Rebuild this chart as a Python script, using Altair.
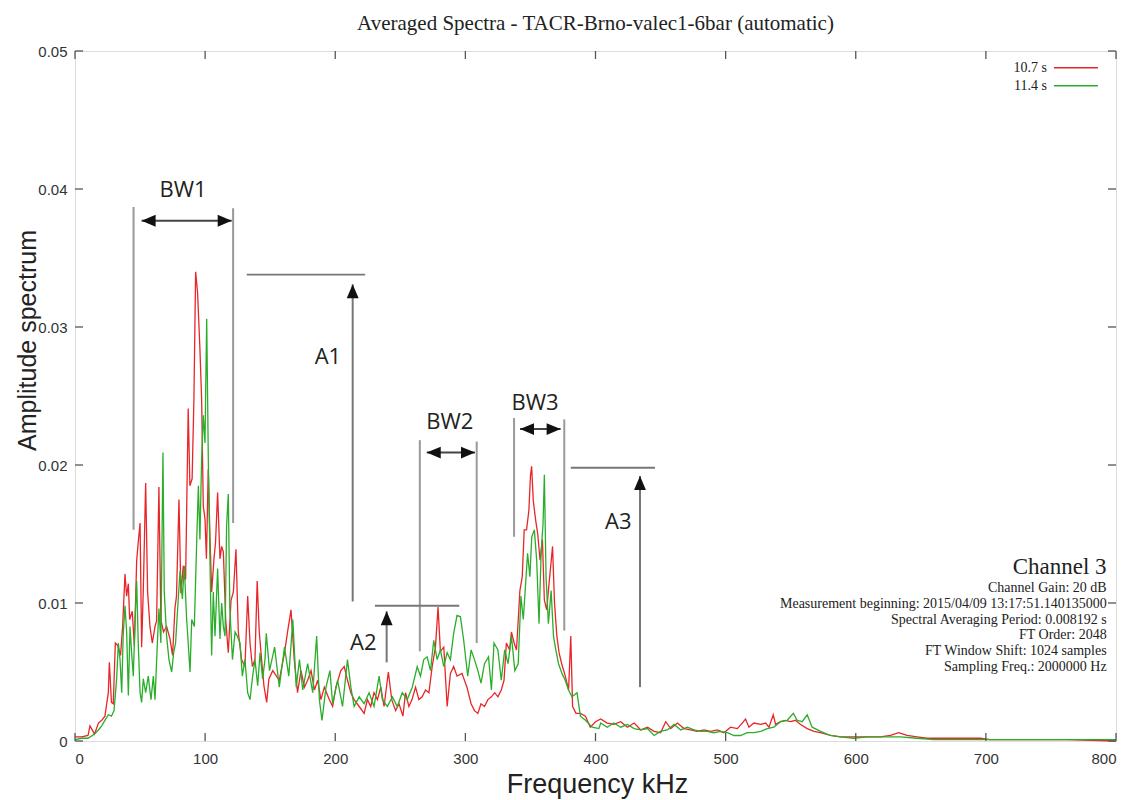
import altair as alt
import pandas as pd

# ---------------- data ----------------
red_freq = [0, 5, 10, 11.5, 15, 18, 20.5, 23, 25.6, 26.4, 28, 29.4, 31, 33, 35, 36.6, 38.4, 39.7, 41, 42, 44, 45.6,
            47.4, 48.6, 50, 51.2, 52.5, 54.3, 55.8, 57.6, 59.4, 61.5, 62.7, 64.5, 66, 68, 70.4, 73, 75, 76.8, 78,
            79.9, 81.4, 83.2, 85, 87, 88.3, 90, 91.4, 92.7, 94.2, 96, 97.3, 98.6, 99.9, 101, 102.4, 103.7, 105,
            106.8, 108, 109.6, 111.4, 112.7, 114, 115.8, 117.8, 119.9, 121.7, 123.7, 125.5, 128, 130.6, 132.7,
            134.5, 136.3, 138.3, 140, 141.6, 143.4, 145.2, 147.3, 149, 152, 157, 161, 163.5, 166, 168.5, 171,
            173.7, 176.3, 178.8, 181.4, 184, 186.5, 189, 191.6, 195.4, 198, 200.5, 204.3, 206.9, 209.4, 212,
            214.5, 218.4, 222.2, 224.7, 227.3, 229.8, 232.4, 235, 237.5, 240.8, 243.4, 246.4, 249, 252, 254,
            256.6, 259, 261.7, 264.3, 266.8, 269.4, 272, 274.5, 277, 279, 280.8, 283.4, 286, 288.5, 291, 293.6,
            297.4, 301.2, 304.4, 307, 309.6, 312, 314.7, 317.3, 320, 322.5, 325, 327.6, 329.7, 331.5, 334, 335.4,
            337.5, 339.3, 341.9, 343.7, 345.2, 347, 348.8, 350, 350.9, 352.2, 354, 355.6, 357.4, 359.2, 360.7,
            362.5, 364.3, 367, 368.5, 370.3, 372, 374, 376.8, 379.3, 381, 382.4, 385, 388.4, 392.3, 396, 400,
            404, 409, 414, 419.4, 424.5, 429.7, 434.8, 440, 445, 450, 454, 457.8, 463, 468, 473, 478, 483.4,
            488.5, 493.6, 498.7, 503.8, 509, 512.8, 515.3, 517.9, 521.7, 526.9, 530.7, 533.3, 536.6, 538.4,
            542.2, 546, 549.9, 553.7, 557.6, 562.7, 567.8, 572.9, 580.6, 588.3, 596, 603.6, 611.3, 619, 626.6,
            633, 639.4, 647, 654.8, 662.4, 672.7, 682.9, 695.7, 703.4, 711, 736.6, 762.2, 800]
red_amp = [0.0003, 0.0003, 0.0004, 0.0011, 0.0005, 0.0013, 0.0015, 0.0018, 0.0035, 0.0057, 0.0028, 0.0027, 0.0071,
           0.0069, 0.0062, 0.0083, 0.0121, 0.0105, 0.0114, 0.0088, 0.0094, 0.0069, 0.0131, 0.0144, 0.0158, 0.0068,
           0.011, 0.0187, 0.0108, 0.0083, 0.0071, 0.0083, 0.0087, 0.0184, 0.0088, 0.0079, 0.0083, 0.0074, 0.0062,
           0.0096, 0.0105, 0.0175, 0.0107, 0.0127, 0.0117, 0.0241, 0.0185, 0.019, 0.0248, 0.034, 0.0325, 0.0284,
           0.0248, 0.017, 0.0161, 0.0132, 0.0197, 0.0149, 0.0108, 0.0132, 0.0144, 0.018, 0.0132, 0.0141, 0.0137,
           0.0088, 0.0064, 0.0102, 0.0108, 0.0139, 0.0079, 0.0059, 0.0054, 0.0105, 0.0071, 0.0054, 0.0059, 0.0116,
           0.0079, 0.0059, 0.004, 0.0028, 0.0045, 0.0051, 0.0044, 0.0064, 0.008, 0.0095, 0.0059, 0.0035, 0.0051,
           0.0039, 0.0044, 0.0051, 0.0037, 0.0044, 0.003, 0.0039, 0.003, 0.0025, 0.0039, 0.0051, 0.0054, 0.0044,
           0.0035, 0.003, 0.0025, 0.002, 0.003, 0.0025, 0.0035, 0.003, 0.0039, 0.0025, 0.005, 0.003, 0.0022,
           0.0027, 0.0018, 0.0035, 0.0025, 0.003, 0.0039, 0.003, 0.0032, 0.0037, 0.0035, 0.0054, 0.0068, 0.0097,
           0.0065, 0.0068, 0.0025, 0.0049, 0.0054, 0.0047, 0.0049, 0.0039, 0.0027, 0.0022, 0.002, 0.0027, 0.0025,
           0.003, 0.0032, 0.0035, 0.0032, 0.0037, 0.0044, 0.0071, 0.0066, 0.0079, 0.0071, 0.0066, 0.0109, 0.0119,
           0.0153, 0.0153, 0.0167, 0.0192, 0.0199, 0.0174, 0.016, 0.015, 0.0131, 0.0146, 0.0102, 0.0095, 0.0114,
           0.0141, 0.01, 0.0076, 0.0064, 0.0056, 0.0047, 0.0037, 0.0076, 0.0025, 0.002, 0.002, 0.0018, 0.001,
           0.0014, 0.0016, 0.0013, 0.0012, 0.0014, 0.001, 0.0013, 0.0008, 0.001, 0.0007, 0.0006, 0.0014, 0.0009,
           0.0013, 0.0009, 0.0008, 0.0007, 0.0008, 0.0007, 0.0008, 0.0006, 0.001, 0.0009, 0.0013, 0.0016, 0.001,
           0.0013, 0.0012, 0.0013, 0.001, 0.0019, 0.0012, 0.0014, 0.0015, 0.0014, 0.0015, 0.0012, 0.0009, 0.0007,
           0.0006, 0.0004, 0.0003, 0.0003, 0.0003, 0.0003, 0.0003, 0.0004, 0.0006, 0.0004, 0.0003, 0.0002, 0.0002,
           0.0002, 0.0002, 0.0002, 0.0001, 0.0001, 0.0001, 0.0001, 0.0]

green_freq = [0, 5, 10, 15, 18, 20.5, 23, 25.6, 28, 30, 32, 33.3, 34.6, 35.9, 37, 38.4, 39.7, 41, 42.3, 43.5, 44.8,
              46, 47.4, 48.6, 50, 51.2, 52.5, 54.3, 56.3, 58.4, 60.2, 61.5, 63.3, 64.5, 66, 67.6, 68.6, 70.4, 72.2,
              74.3, 75.8, 77.3, 78.9, 80.7, 82.5, 84, 85.8, 87, 88.4, 89.7, 91.7, 93.5, 94.8, 96, 97.3, 98.6, 99.9,
              101.2, 102.5, 103.7, 105, 106.3, 107.6, 109.6, 111.4, 112.7, 114, 115.3, 116.5, 117.8, 119, 121, 123,
              124.7, 126.8, 128.6, 130.6, 132.7, 134.5, 136.5, 138.3, 140.4, 142.2, 144.2, 146, 147, 149.5, 153.4,
              157, 161, 164.3, 167.4, 170, 172.5, 175, 178.8, 182.7, 185.7, 187.8, 189.8, 192.9, 195.9, 198, 201.8,
              205.6, 209.4, 212, 214.5, 218.4, 222.2, 226, 229.8, 233.7, 236.2, 240, 243.9, 247.7, 251.5, 255.3,
              259.2, 263, 265.5, 268, 270.6, 273.2, 275.7, 278.3, 280.8, 283.4, 286, 288.5, 291, 293.6, 296.2,
              298.7, 301.8, 304.4, 307, 309.6, 312, 314.7, 317.8, 320, 322, 325, 327.6, 330.2, 332.8, 335.4, 338,
              340.6, 342.7, 344.5, 346.3, 347.8, 349.6, 351, 353, 354.8, 356.6, 358.2, 359.7, 360.7, 362, 363.8,
              365.9, 367.7, 369.5, 371.6, 374.2, 376.7, 379.3, 381.9, 385.8, 388.4, 392.3, 397.4, 402.6, 404, 409,
              414, 419.4, 424.5, 429.7, 434.8, 440, 445, 450, 455.2, 460.4, 465.5, 470.6, 475.7, 480.8, 486, 491,
              496, 501.3, 506.4, 511.5, 516.6, 521.7, 527, 532, 537, 542.2, 547.3, 552, 555, 558.8, 562.7, 566.5,
              573, 580.6, 588.3, 598.5, 608.7, 621.5, 634.3, 647, 659.9, 685.4, 711, 800]
green_amp = [0.0001, 0.0002, 0.0002, 0.0005, 0.0008, 0.0011, 0.0015, 0.0019, 0.0018, 0.0022, 0.0045, 0.0071, 0.0059,
             0.0035, 0.0076, 0.0098, 0.0079, 0.0033, 0.0083, 0.0064, 0.0047, 0.0083, 0.0116, 0.0071, 0.0035, 0.0028,
             0.0045, 0.0035, 0.0047, 0.003, 0.0047, 0.003, 0.0071, 0.0096, 0.0071, 0.0209, 0.0108, 0.0076, 0.0059,
             0.005, 0.0064, 0.0071, 0.0096, 0.0123, 0.0103, 0.0127, 0.0088, 0.0071, 0.005, 0.0088, 0.0083, 0.0144,
             0.0185, 0.0146, 0.0204, 0.0236, 0.0216, 0.0306, 0.02, 0.0132, 0.0062, 0.0108, 0.0076, 0.0125, 0.0074,
             0.01, 0.0083, 0.0076, 0.0156, 0.0179, 0.0096, 0.0059, 0.0079, 0.0076, 0.0071, 0.0047, 0.0059, 0.0035,
             0.003, 0.0047, 0.0059, 0.004, 0.0064, 0.0045, 0.0059, 0.0078, 0.0051, 0.0068, 0.0039, 0.0068, 0.0047,
             0.0088, 0.0039, 0.0059, 0.0037, 0.0056, 0.0035, 0.0076, 0.003, 0.0015, 0.0039, 0.0051, 0.0027, 0.0044,
             0.0025, 0.0059, 0.0039, 0.0025, 0.0032, 0.0027, 0.0035, 0.0025, 0.0047, 0.003, 0.0025, 0.0032, 0.0025,
             0.0035, 0.003, 0.0039, 0.0054, 0.0047, 0.0059, 0.0061, 0.0051, 0.0073, 0.0059, 0.0066, 0.0054, 0.0064,
             0.0059, 0.0078, 0.0091, 0.009, 0.0073, 0.0047, 0.0066, 0.0059, 0.0051, 0.0042, 0.0056, 0.0061, 0.0037,
             0.0071, 0.0066, 0.0044, 0.0066, 0.0056, 0.0076, 0.0051, 0.0056, 0.0105, 0.0088, 0.0114, 0.0136, 0.0119,
             0.0148, 0.0153, 0.0131, 0.0085, 0.0136, 0.0158, 0.0193, 0.0119, 0.0085, 0.0109, 0.0076, 0.0066, 0.0056,
             0.0049, 0.0044, 0.0037, 0.0032, 0.0035, 0.0018, 0.0015, 0.001, 0.0009, 0.0013, 0.001, 0.0013, 0.001,
             0.0012, 0.0009, 0.0008, 0.0009, 0.0004, 0.0007, 0.0008, 0.0012, 0.0008, 0.001, 0.0008, 0.0007, 0.0007,
             0.0006, 0.0007, 0.0006, 0.0004, 0.0004, 0.0006, 0.0006, 0.0007, 0.0009, 0.001, 0.0014, 0.0015, 0.002,
             0.0015, 0.0014, 0.0019, 0.001, 0.0007, 0.0004, 0.0003, 0.0002, 0.0003, 0.0003, 0.0003, 0.0002, 0.0001,
             0.0001, 0.0001, 0.0001]

series_names = ["10.7 s", "11.4 s"]
series_colors = ["#e8262a", "#2aae2a"]

x_ticks = [0, 100, 200, 300, 400, 500, 600, 700, 800]
y_ticks = [0, 0.01, 0.02, 0.03, 0.04, 0.05]

# annotation geometry (data coordinates)
vline_x = [45, 121.5, 265, 308.7, 337.4, 376]
vline_y1 = [0.0153, 0.0158, 0.0065, 0.0071, 0.0148, 0.0080]
vline_y2 = [0.0387, 0.0386, 0.0218, 0.0217, 0.0234, 0.0233]

hline_x1 = [132, 230.5, 381]
hline_x2 = [223, 295.3, 445.7]
hline_y = [0.0338, 0.0098, 0.0198]

bw_y = [0.0377, 0.0209, 0.0226]
bw_x1 = [51.2, 270.3, 342.0]
bw_x2 = [120.4, 307.4, 373.2]

amp_x = [213.4, 239.5, 434.2]
amp_y1 = [0.0101, 0.0057, 0.0039]
amp_y2 = [0.0331, 0.0094, 0.0192]

label_text = ["BW1", "A1", "A2", "BW2", "BW3", "A3"]
label_x = [83, 194.4, 221.6, 288, 353.5, 417.5]
label_y = [0.0399, 0.0278, 0.0071, 0.0231, 0.0245, 0.0159]

info_text = ["Channel Gain: 20 dB",
             "Measurement beginning: 2015/04/09 13:17:51.140135000",
             "Spectral Averaging Period: 0.008192 s",
             "FT Order: 2048",
             "FT Window Shift: 1024 samples",
             "Sampling Freq.: 2000000 Hz"]
info_y = [0.01111, 0.0099, 0.00877, 0.00768, 0.00652, 0.00538]
info_x = 792.8
channel_title = "Channel 3"
channel_y = 0.01263

legend_y = [0.04879, 0.04749]
legend_text_x = 747
legend_line_x1 = 752.3
legend_line_x2 = 786.1

# ---------------- build ----------------
W, H = 1041, 690
XS = alt.Scale(domain=[0, 800], nice=False, zero=False)
YS = alt.Scale(domain=[0, 0.05], nice=False, zero=False)
KHZ_PER_PX = 800 / W
AMP_PER_PX = 0.05 / H
AX_FONT = "Liberation Sans"

XA = alt.Axis(values=x_ticks, title="Frequency kHz", ticks=False, domain=False, grid=False,
              labelFont=AX_FONT, labelFontSize=15, labelColor="#333", labelPadding=10,
              titleFont=AX_FONT, titleFontSize=27, titleFontWeight="normal", titleColor="#222",
              titleX=522, titleY=43, titleBaseline="middle")
YA = alt.Axis(values=y_ticks, title="Amplitude spectrum", ticks=False, domain=False, grid=False,
              labelExpr="datum.value == 0 ? '0' : format(datum.value, '.2f')",
              labelFont=AX_FONT, labelFontSize=15, labelColor="#333", labelPadding=8,
              titleFont=AX_FONT, titleFontSize=25, titleFontWeight="normal", titleColor="#222",
              titleX=-48, titleY=289, titleBaseline="middle", titleAngle=-90, titleAlign="center")


def X(field):
    return alt.X(field, scale=XS, axis=XA, title="Frequency kHz")


def Y(field):
    return alt.Y(field, scale=YS, axis=YA, title="Amplitude spectrum")


spec = pd.concat([
    pd.DataFrame({"f": red_freq, "a": red_amp, "s": series_names[0], "o": 0}),
    pd.DataFrame({"f": green_freq, "a": green_amp, "s": series_names[1], "o": 1}),
])

lines = alt.Chart(spec).mark_line(strokeWidth=1.3, interpolate="linear").encode(
    x=X("f:Q"), y=Y("a:Q"),
    color=alt.Color("s:N", scale=alt.Scale(domain=series_names, range=series_colors), legend=None),
    detail="s:N",
    order="o:Q",
)

# inward ticks on all four sides
xt = pd.DataFrame({"t": x_ticks})
yt = pd.DataFrame({"t": y_ticks})
tick_color = "#555"
bottom_ticks = alt.Chart(xt).mark_rule(color=tick_color, strokeWidth=1.3).encode(
    x=X("t:Q"), y=alt.value(H), y2=alt.value(H - 8))
top_ticks = alt.Chart(xt).mark_rule(color=tick_color, strokeWidth=1.3).encode(
    x=X("t:Q"), y=alt.value(0), y2=alt.value(8))
left_ticks = alt.Chart(yt).mark_rule(color=tick_color, strokeWidth=1.3).encode(
    y=Y("t:Q"), x=alt.value(0), x2=alt.value(8))
right_ticks = alt.Chart(yt).mark_rule(color=tick_color, strokeWidth=1.3).encode(
    y=Y("t:Q"), x=alt.value(W - 8), x2=alt.value(W))

# annotation lines
vl = pd.DataFrame({"x": vline_x, "y1": vline_y1, "y2": vline_y2})
vlines = alt.Chart(vl).mark_rule(color="#999", strokeWidth=2).encode(
    x=X("x:Q"), y=Y("y1:Q"), y2="y2:Q")
hl = pd.DataFrame({"x1": hline_x1, "x2": hline_x2, "y": hline_y})
hlines = alt.Chart(hl).mark_rule(color="#777", strokeWidth=1.8).encode(
    x=X("x1:Q"), x2="x2:Q", y=Y("y:Q"))

bw = pd.DataFrame({"x1": bw_x1, "x2": bw_x2, "y": bw_y})
bw_shafts = alt.Chart(bw).mark_rule(color="#444", strokeWidth=2).encode(
    x=X("x1:Q"), x2="x2:Q", y=Y("y:Q"))
am = pd.DataFrame({"x": amp_x, "y1": amp_y1, "y2": amp_y2})
amp_shafts = alt.Chart(am).mark_rule(color="#777", strokeWidth=2).encode(
    x=X("x:Q"), y=Y("y1:Q"), y2="y2:Q")

HEAD = 14  # px, arrow head length
half_k = HEAD / 2 * KHZ_PER_PX
half_a = HEAD / 2 * AMP_PER_PX
heads_r = pd.DataFrame({"x": [v - half_k for v in bw_x2], "y": bw_y})
heads_l = pd.DataFrame({"x": [v + half_k for v in bw_x1], "y": bw_y})
heads_u = pd.DataFrame({"x": amp_x, "y": [v - half_a for v in amp_y2]})
right_shape = "M-1,-0.85L1,0L-1,0.85Z"
left_shape = "M1,-0.85L-1,0L1,0.85Z"
up_shape = "M-0.85,1L0,-1L0.85,1Z"


def heads(df, shape):
    return alt.Chart(df).mark_point(shape=shape, filled=True, color="#111", opacity=1, size=HEAD * HEAD,
                                    strokeWidth=0).encode(x=X("x:Q"), y=Y("y:Q"))


hr = heads(heads_r, right_shape)
hlft = heads(heads_l, left_shape)
hu = heads(heads_u, up_shape)

lab = pd.DataFrame({"t": label_text, "x": label_x, "y": label_y})
labels = alt.Chart(lab).mark_text(font="Open Sans", fontSize=22, color="#222", align="center",
                                  baseline="middle").encode(x=X("x:Q"), y=Y("y:Q"), text="t:N")

info = pd.DataFrame({"t": info_text, "x": info_x, "y": info_y})
info_layer = alt.Chart(info).mark_text(font="Liberation Serif", fontSize=14, color="#222", align="right",
                                       baseline="middle").encode(x=X("x:Q"), y=Y("y:Q"), text="t:N")
chan = pd.DataFrame({"t": [channel_title], "x": [info_x], "y": [channel_y]})
chan_layer = alt.Chart(chan).mark_text(font="Liberation Serif", fontSize=23, color="#222", align="right",
                                       baseline="middle").encode(x=X("x:Q"), y=Y("y:Q"), text="t:N")

leg = pd.DataFrame({"t": series_names, "y": legend_y, "x": legend_text_x,
                    "x1": legend_line_x1, "x2": legend_line_x2})
leg_text = alt.Chart(leg).mark_text(font="Liberation Serif", fontSize=14, color="#222", align="right",
                                    baseline="middle").encode(x=X("x:Q"), y=Y("y:Q"), text="t:N")
leg_lines = alt.Chart(leg).mark_rule(strokeWidth=1.5).encode(
    x=X("x1:Q"), x2="x2:Q", y=Y("y:Q"),
    color=alt.Color("t:N", scale=alt.Scale(domain=series_names, range=series_colors), legend=None))

chart = alt.layer(
    lines, bottom_ticks, top_ticks, left_ticks, right_ticks,
    vlines, hlines, bw_shafts, amp_shafts, hr, hlft, hu, labels,
    info_layer, chan_layer, leg_text, leg_lines,
).properties(
    width=W, height=H,
    title=alt.TitleParams("Averaged Spectra - TACR-Brno-valec1-6bar (automatic)", font="Liberation Serif",
                          fontSize=21, fontWeight="normal", color="#222", anchor="middle", offset=10),
    autosize=alt.AutoSizeParams(type="none"),
    padding={"left": 67, "top": 43, "right": 12, "bottom": 58},
).configure_view(stroke="#555", strokeWidth=1.5).configure(background="white")

chart.save("out.html", embed_options={"renderer": "svg", "actions": False})
